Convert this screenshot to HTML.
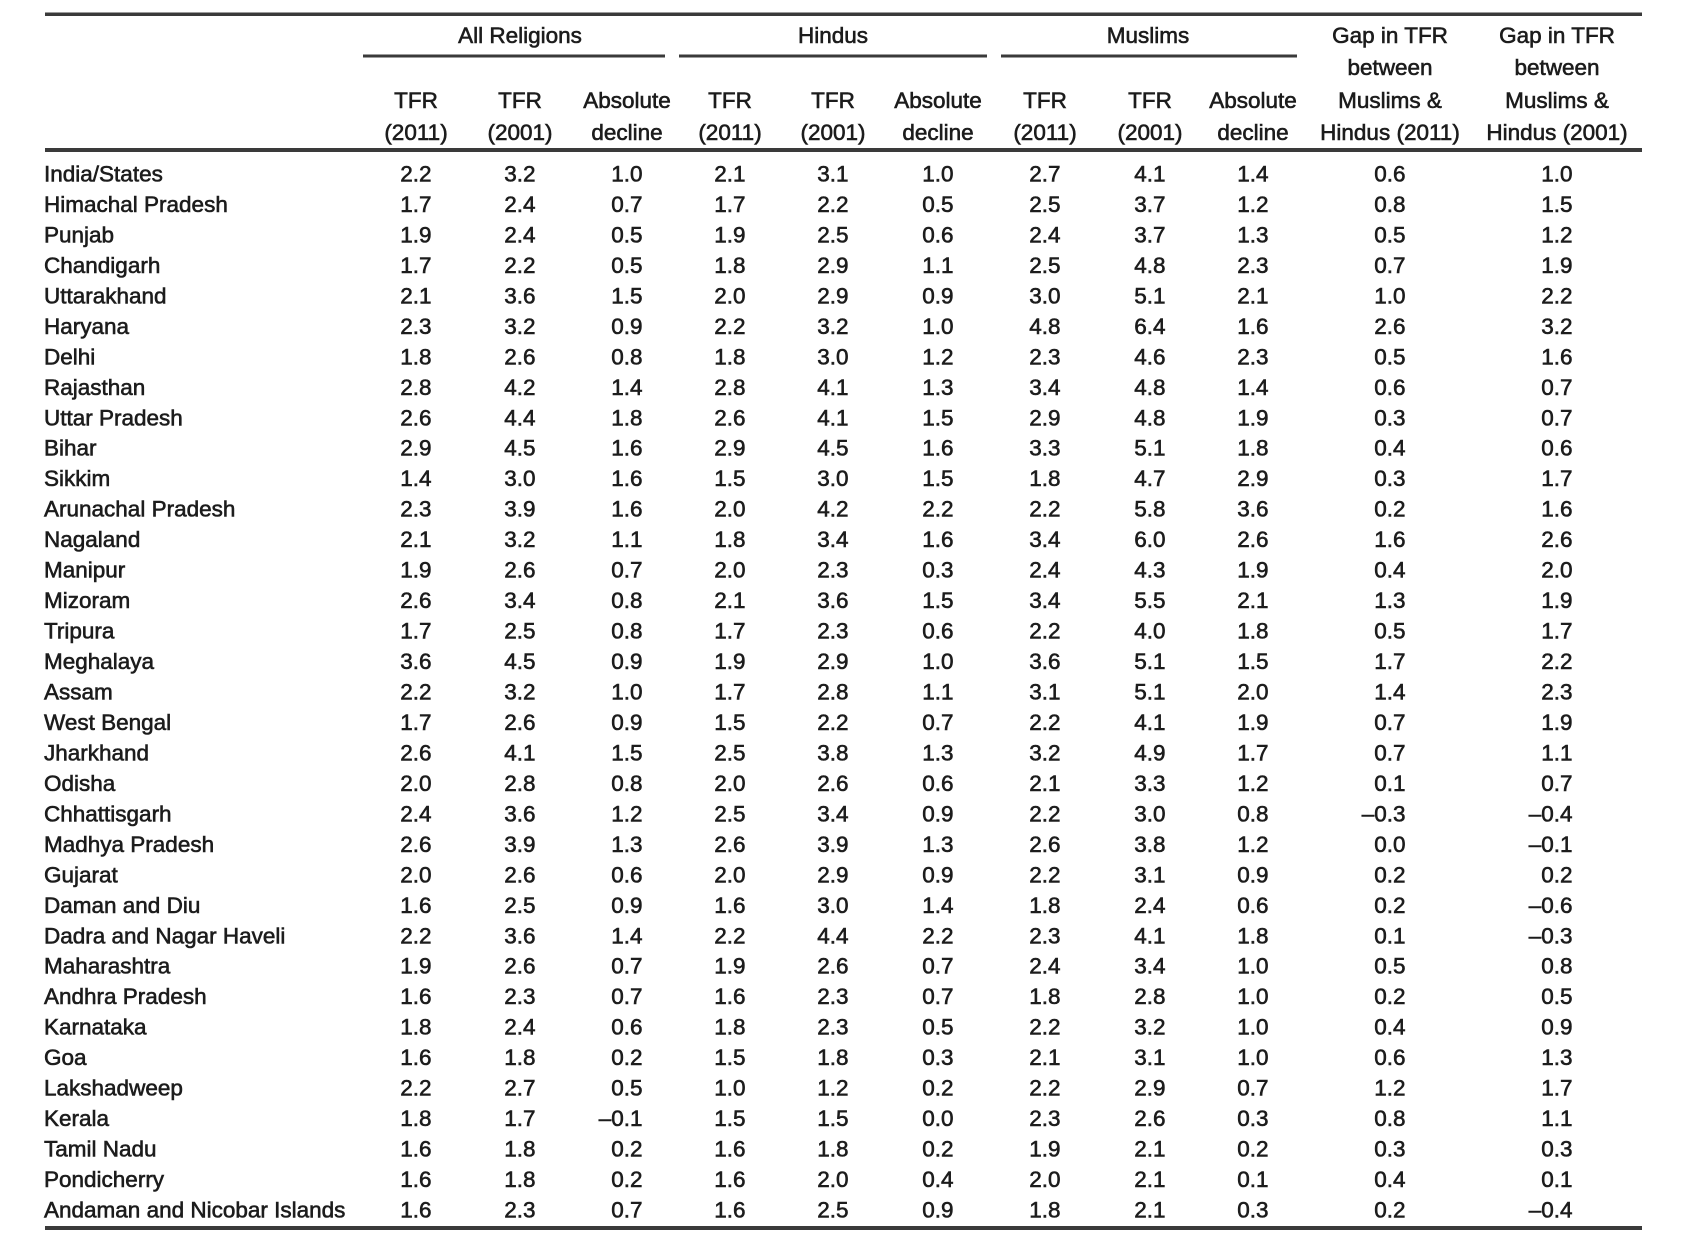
<!DOCTYPE html>
<html>
<head>
<meta charset="utf-8">
<style>
html,body{margin:0;padding:0;background:#fff;}
svg{display:block;filter:blur(0.35px);}
text{font-family:"Liberation Sans",Arial,sans-serif;font-size:22.5px;fill:#1c1c1c;stroke:#1c1c1c;stroke-width:0.6px;}
.n{text-anchor:end;}
.c{text-anchor:middle;}
</style>
</head>
<body>
<svg width="1702" height="1240" viewBox="0 0 1702 1240" xmlns="http://www.w3.org/2000/svg">
<rect x="0" y="0" width="1702" height="1240" fill="#fff"/>
<!-- rules -->
<rect x="45" y="12.5" width="1597" height="3.5" fill="#3a3a3a"/>
<rect x="363" y="54.5" width="302" height="3" fill="#3a3a3a"/>
<rect x="679" y="54.5" width="308" height="3" fill="#3a3a3a"/>
<rect x="1001" y="54.5" width="296" height="3" fill="#3a3a3a"/>
<rect x="45" y="148" width="1597" height="4" fill="#3a3a3a"/>
<rect x="45" y="1226" width="1597" height="4" fill="#3a3a3a"/>

<!-- group headers -->
<text class="c" x="520" y="43">All Religions</text>
<text class="c" x="833" y="43">Hindus</text>
<text class="c" x="1148" y="43">Muslims</text>

<!-- column headers -->
<text class="c" x="416" y="108">TFR</text><text class="c" x="416" y="140">(2011)</text>
<text class="c" x="520" y="108">TFR</text><text class="c" x="520" y="140">(2001)</text>
<text class="c" x="627" y="108">Absolute</text><text class="c" x="627" y="140">decline</text>
<text class="c" x="730" y="108">TFR</text><text class="c" x="730" y="140">(2011)</text>
<text class="c" x="833" y="108">TFR</text><text class="c" x="833" y="140">(2001)</text>
<text class="c" x="938" y="108">Absolute</text><text class="c" x="938" y="140">decline</text>
<text class="c" x="1045" y="108">TFR</text><text class="c" x="1045" y="140">(2011)</text>
<text class="c" x="1150" y="108">TFR</text><text class="c" x="1150" y="140">(2001)</text>
<text class="c" x="1253" y="108">Absolute</text><text class="c" x="1253" y="140">decline</text>
<text class="c" x="1390" y="43">Gap in TFR</text><text class="c" x="1390" y="75">between</text><text class="c" x="1390" y="108">Muslims &amp;</text><text class="c" x="1390" y="140">Hindus (2011)</text>
<text class="c" x="1557" y="43">Gap in TFR</text><text class="c" x="1557" y="75">between</text><text class="c" x="1557" y="108">Muslims &amp;</text><text class="c" x="1557" y="140">Hindus (2001)</text>

<!-- data rows -->
<g transform="translate(0,181.5)"><text x="44">India/States</text><text class="n" x="431.5">2.2</text><text class="n" x="535.5">3.2</text><text class="n" x="642.5">1.0</text><text class="n" x="745.5">2.1</text><text class="n" x="848.5">3.1</text><text class="n" x="953.5">1.0</text><text class="n" x="1060.5">2.7</text><text class="n" x="1165.5">4.1</text><text class="n" x="1268.5">1.4</text><text class="n" x="1405.5">0.6</text><text class="n" x="1572.5">1.0</text></g>
<g transform="translate(0,212.0)"><text x="44">Himachal Pradesh</text><text class="n" x="431.5">1.7</text><text class="n" x="535.5">2.4</text><text class="n" x="642.5">0.7</text><text class="n" x="745.5">1.7</text><text class="n" x="848.5">2.2</text><text class="n" x="953.5">0.5</text><text class="n" x="1060.5">2.5</text><text class="n" x="1165.5">3.7</text><text class="n" x="1268.5">1.2</text><text class="n" x="1405.5">0.8</text><text class="n" x="1572.5">1.5</text></g>
<g transform="translate(0,242.4)"><text x="44">Punjab</text><text class="n" x="431.5">1.9</text><text class="n" x="535.5">2.4</text><text class="n" x="642.5">0.5</text><text class="n" x="745.5">1.9</text><text class="n" x="848.5">2.5</text><text class="n" x="953.5">0.6</text><text class="n" x="1060.5">2.4</text><text class="n" x="1165.5">3.7</text><text class="n" x="1268.5">1.3</text><text class="n" x="1405.5">0.5</text><text class="n" x="1572.5">1.2</text></g>
<g transform="translate(0,272.9)"><text x="44">Chandigarh</text><text class="n" x="431.5">1.7</text><text class="n" x="535.5">2.2</text><text class="n" x="642.5">0.5</text><text class="n" x="745.5">1.8</text><text class="n" x="848.5">2.9</text><text class="n" x="953.5">1.1</text><text class="n" x="1060.5">2.5</text><text class="n" x="1165.5">4.8</text><text class="n" x="1268.5">2.3</text><text class="n" x="1405.5">0.7</text><text class="n" x="1572.5">1.9</text></g>
<g transform="translate(0,303.4)"><text x="44">Uttarakhand</text><text class="n" x="431.5">2.1</text><text class="n" x="535.5">3.6</text><text class="n" x="642.5">1.5</text><text class="n" x="745.5">2.0</text><text class="n" x="848.5">2.9</text><text class="n" x="953.5">0.9</text><text class="n" x="1060.5">3.0</text><text class="n" x="1165.5">5.1</text><text class="n" x="1268.5">2.1</text><text class="n" x="1405.5">1.0</text><text class="n" x="1572.5">2.2</text></g>
<g transform="translate(0,333.9)"><text x="44">Haryana</text><text class="n" x="431.5">2.3</text><text class="n" x="535.5">3.2</text><text class="n" x="642.5">0.9</text><text class="n" x="745.5">2.2</text><text class="n" x="848.5">3.2</text><text class="n" x="953.5">1.0</text><text class="n" x="1060.5">4.8</text><text class="n" x="1165.5">6.4</text><text class="n" x="1268.5">1.6</text><text class="n" x="1405.5">2.6</text><text class="n" x="1572.5">3.2</text></g>
<g transform="translate(0,364.3)"><text x="44">Delhi</text><text class="n" x="431.5">1.8</text><text class="n" x="535.5">2.6</text><text class="n" x="642.5">0.8</text><text class="n" x="745.5">1.8</text><text class="n" x="848.5">3.0</text><text class="n" x="953.5">1.2</text><text class="n" x="1060.5">2.3</text><text class="n" x="1165.5">4.6</text><text class="n" x="1268.5">2.3</text><text class="n" x="1405.5">0.5</text><text class="n" x="1572.5">1.6</text></g>
<g transform="translate(0,394.8)"><text x="44">Rajasthan</text><text class="n" x="431.5">2.8</text><text class="n" x="535.5">4.2</text><text class="n" x="642.5">1.4</text><text class="n" x="745.5">2.8</text><text class="n" x="848.5">4.1</text><text class="n" x="953.5">1.3</text><text class="n" x="1060.5">3.4</text><text class="n" x="1165.5">4.8</text><text class="n" x="1268.5">1.4</text><text class="n" x="1405.5">0.6</text><text class="n" x="1572.5">0.7</text></g>
<g transform="translate(0,425.3)"><text x="44">Uttar Pradesh</text><text class="n" x="431.5">2.6</text><text class="n" x="535.5">4.4</text><text class="n" x="642.5">1.8</text><text class="n" x="745.5">2.6</text><text class="n" x="848.5">4.1</text><text class="n" x="953.5">1.5</text><text class="n" x="1060.5">2.9</text><text class="n" x="1165.5">4.8</text><text class="n" x="1268.5">1.9</text><text class="n" x="1405.5">0.3</text><text class="n" x="1572.5">0.7</text></g>
<g transform="translate(0,455.7)"><text x="44">Bihar</text><text class="n" x="431.5">2.9</text><text class="n" x="535.5">4.5</text><text class="n" x="642.5">1.6</text><text class="n" x="745.5">2.9</text><text class="n" x="848.5">4.5</text><text class="n" x="953.5">1.6</text><text class="n" x="1060.5">3.3</text><text class="n" x="1165.5">5.1</text><text class="n" x="1268.5">1.8</text><text class="n" x="1405.5">0.4</text><text class="n" x="1572.5">0.6</text></g>
<g transform="translate(0,486.2)"><text x="44">Sikkim</text><text class="n" x="431.5">1.4</text><text class="n" x="535.5">3.0</text><text class="n" x="642.5">1.6</text><text class="n" x="745.5">1.5</text><text class="n" x="848.5">3.0</text><text class="n" x="953.5">1.5</text><text class="n" x="1060.5">1.8</text><text class="n" x="1165.5">4.7</text><text class="n" x="1268.5">2.9</text><text class="n" x="1405.5">0.3</text><text class="n" x="1572.5">1.7</text></g>
<g transform="translate(0,516.7)"><text x="44">Arunachal Pradesh</text><text class="n" x="431.5">2.3</text><text class="n" x="535.5">3.9</text><text class="n" x="642.5">1.6</text><text class="n" x="745.5">2.0</text><text class="n" x="848.5">4.2</text><text class="n" x="953.5">2.2</text><text class="n" x="1060.5">2.2</text><text class="n" x="1165.5">5.8</text><text class="n" x="1268.5">3.6</text><text class="n" x="1405.5">0.2</text><text class="n" x="1572.5">1.6</text></g>
<g transform="translate(0,547.1)"><text x="44">Nagaland</text><text class="n" x="431.5">2.1</text><text class="n" x="535.5">3.2</text><text class="n" x="642.5">1.1</text><text class="n" x="745.5">1.8</text><text class="n" x="848.5">3.4</text><text class="n" x="953.5">1.6</text><text class="n" x="1060.5">3.4</text><text class="n" x="1165.5">6.0</text><text class="n" x="1268.5">2.6</text><text class="n" x="1405.5">1.6</text><text class="n" x="1572.5">2.6</text></g>
<g transform="translate(0,577.6)"><text x="44">Manipur</text><text class="n" x="431.5">1.9</text><text class="n" x="535.5">2.6</text><text class="n" x="642.5">0.7</text><text class="n" x="745.5">2.0</text><text class="n" x="848.5">2.3</text><text class="n" x="953.5">0.3</text><text class="n" x="1060.5">2.4</text><text class="n" x="1165.5">4.3</text><text class="n" x="1268.5">1.9</text><text class="n" x="1405.5">0.4</text><text class="n" x="1572.5">2.0</text></g>
<g transform="translate(0,608.1)"><text x="44">Mizoram</text><text class="n" x="431.5">2.6</text><text class="n" x="535.5">3.4</text><text class="n" x="642.5">0.8</text><text class="n" x="745.5">2.1</text><text class="n" x="848.5">3.6</text><text class="n" x="953.5">1.5</text><text class="n" x="1060.5">3.4</text><text class="n" x="1165.5">5.5</text><text class="n" x="1268.5">2.1</text><text class="n" x="1405.5">1.3</text><text class="n" x="1572.5">1.9</text></g>
<g transform="translate(0,638.6)"><text x="44">Tripura</text><text class="n" x="431.5">1.7</text><text class="n" x="535.5">2.5</text><text class="n" x="642.5">0.8</text><text class="n" x="745.5">1.7</text><text class="n" x="848.5">2.3</text><text class="n" x="953.5">0.6</text><text class="n" x="1060.5">2.2</text><text class="n" x="1165.5">4.0</text><text class="n" x="1268.5">1.8</text><text class="n" x="1405.5">0.5</text><text class="n" x="1572.5">1.7</text></g>
<g transform="translate(0,669.0)"><text x="44">Meghalaya</text><text class="n" x="431.5">3.6</text><text class="n" x="535.5">4.5</text><text class="n" x="642.5">0.9</text><text class="n" x="745.5">1.9</text><text class="n" x="848.5">2.9</text><text class="n" x="953.5">1.0</text><text class="n" x="1060.5">3.6</text><text class="n" x="1165.5">5.1</text><text class="n" x="1268.5">1.5</text><text class="n" x="1405.5">1.7</text><text class="n" x="1572.5">2.2</text></g>
<g transform="translate(0,699.5)"><text x="44">Assam</text><text class="n" x="431.5">2.2</text><text class="n" x="535.5">3.2</text><text class="n" x="642.5">1.0</text><text class="n" x="745.5">1.7</text><text class="n" x="848.5">2.8</text><text class="n" x="953.5">1.1</text><text class="n" x="1060.5">3.1</text><text class="n" x="1165.5">5.1</text><text class="n" x="1268.5">2.0</text><text class="n" x="1405.5">1.4</text><text class="n" x="1572.5">2.3</text></g>
<g transform="translate(0,730.0)"><text x="44">West Bengal</text><text class="n" x="431.5">1.7</text><text class="n" x="535.5">2.6</text><text class="n" x="642.5">0.9</text><text class="n" x="745.5">1.5</text><text class="n" x="848.5">2.2</text><text class="n" x="953.5">0.7</text><text class="n" x="1060.5">2.2</text><text class="n" x="1165.5">4.1</text><text class="n" x="1268.5">1.9</text><text class="n" x="1405.5">0.7</text><text class="n" x="1572.5">1.9</text></g>
<g transform="translate(0,760.4)"><text x="44">Jharkhand</text><text class="n" x="431.5">2.6</text><text class="n" x="535.5">4.1</text><text class="n" x="642.5">1.5</text><text class="n" x="745.5">2.5</text><text class="n" x="848.5">3.8</text><text class="n" x="953.5">1.3</text><text class="n" x="1060.5">3.2</text><text class="n" x="1165.5">4.9</text><text class="n" x="1268.5">1.7</text><text class="n" x="1405.5">0.7</text><text class="n" x="1572.5">1.1</text></g>
<g transform="translate(0,790.9)"><text x="44">Odisha</text><text class="n" x="431.5">2.0</text><text class="n" x="535.5">2.8</text><text class="n" x="642.5">0.8</text><text class="n" x="745.5">2.0</text><text class="n" x="848.5">2.6</text><text class="n" x="953.5">0.6</text><text class="n" x="1060.5">2.1</text><text class="n" x="1165.5">3.3</text><text class="n" x="1268.5">1.2</text><text class="n" x="1405.5">0.1</text><text class="n" x="1572.5">0.7</text></g>
<g transform="translate(0,821.4)"><text x="44">Chhattisgarh</text><text class="n" x="431.5">2.4</text><text class="n" x="535.5">3.6</text><text class="n" x="642.5">1.2</text><text class="n" x="745.5">2.5</text><text class="n" x="848.5">3.4</text><text class="n" x="953.5">0.9</text><text class="n" x="1060.5">2.2</text><text class="n" x="1165.5">3.0</text><text class="n" x="1268.5">0.8</text><text class="n" x="1405.5">–0.3</text><text class="n" x="1572.5">–0.4</text></g>
<g transform="translate(0,851.8)"><text x="44">Madhya Pradesh</text><text class="n" x="431.5">2.6</text><text class="n" x="535.5">3.9</text><text class="n" x="642.5">1.3</text><text class="n" x="745.5">2.6</text><text class="n" x="848.5">3.9</text><text class="n" x="953.5">1.3</text><text class="n" x="1060.5">2.6</text><text class="n" x="1165.5">3.8</text><text class="n" x="1268.5">1.2</text><text class="n" x="1405.5">0.0</text><text class="n" x="1572.5">–0.1</text></g>
<g transform="translate(0,882.3)"><text x="44">Gujarat</text><text class="n" x="431.5">2.0</text><text class="n" x="535.5">2.6</text><text class="n" x="642.5">0.6</text><text class="n" x="745.5">2.0</text><text class="n" x="848.5">2.9</text><text class="n" x="953.5">0.9</text><text class="n" x="1060.5">2.2</text><text class="n" x="1165.5">3.1</text><text class="n" x="1268.5">0.9</text><text class="n" x="1405.5">0.2</text><text class="n" x="1572.5">0.2</text></g>
<g transform="translate(0,912.8)"><text x="44">Daman and Diu</text><text class="n" x="431.5">1.6</text><text class="n" x="535.5">2.5</text><text class="n" x="642.5">0.9</text><text class="n" x="745.5">1.6</text><text class="n" x="848.5">3.0</text><text class="n" x="953.5">1.4</text><text class="n" x="1060.5">1.8</text><text class="n" x="1165.5">2.4</text><text class="n" x="1268.5">0.6</text><text class="n" x="1405.5">0.2</text><text class="n" x="1572.5">–0.6</text></g>
<g transform="translate(0,943.3)"><text x="44">Dadra and Nagar Haveli</text><text class="n" x="431.5">2.2</text><text class="n" x="535.5">3.6</text><text class="n" x="642.5">1.4</text><text class="n" x="745.5">2.2</text><text class="n" x="848.5">4.4</text><text class="n" x="953.5">2.2</text><text class="n" x="1060.5">2.3</text><text class="n" x="1165.5">4.1</text><text class="n" x="1268.5">1.8</text><text class="n" x="1405.5">0.1</text><text class="n" x="1572.5">–0.3</text></g>
<g transform="translate(0,973.7)"><text x="44">Maharashtra</text><text class="n" x="431.5">1.9</text><text class="n" x="535.5">2.6</text><text class="n" x="642.5">0.7</text><text class="n" x="745.5">1.9</text><text class="n" x="848.5">2.6</text><text class="n" x="953.5">0.7</text><text class="n" x="1060.5">2.4</text><text class="n" x="1165.5">3.4</text><text class="n" x="1268.5">1.0</text><text class="n" x="1405.5">0.5</text><text class="n" x="1572.5">0.8</text></g>
<g transform="translate(0,1004.2)"><text x="44">Andhra Pradesh</text><text class="n" x="431.5">1.6</text><text class="n" x="535.5">2.3</text><text class="n" x="642.5">0.7</text><text class="n" x="745.5">1.6</text><text class="n" x="848.5">2.3</text><text class="n" x="953.5">0.7</text><text class="n" x="1060.5">1.8</text><text class="n" x="1165.5">2.8</text><text class="n" x="1268.5">1.0</text><text class="n" x="1405.5">0.2</text><text class="n" x="1572.5">0.5</text></g>
<g transform="translate(0,1034.7)"><text x="44">Karnataka</text><text class="n" x="431.5">1.8</text><text class="n" x="535.5">2.4</text><text class="n" x="642.5">0.6</text><text class="n" x="745.5">1.8</text><text class="n" x="848.5">2.3</text><text class="n" x="953.5">0.5</text><text class="n" x="1060.5">2.2</text><text class="n" x="1165.5">3.2</text><text class="n" x="1268.5">1.0</text><text class="n" x="1405.5">0.4</text><text class="n" x="1572.5">0.9</text></g>
<g transform="translate(0,1065.1)"><text x="44">Goa</text><text class="n" x="431.5">1.6</text><text class="n" x="535.5">1.8</text><text class="n" x="642.5">0.2</text><text class="n" x="745.5">1.5</text><text class="n" x="848.5">1.8</text><text class="n" x="953.5">0.3</text><text class="n" x="1060.5">2.1</text><text class="n" x="1165.5">3.1</text><text class="n" x="1268.5">1.0</text><text class="n" x="1405.5">0.6</text><text class="n" x="1572.5">1.3</text></g>
<g transform="translate(0,1095.6)"><text x="44">Lakshadweep</text><text class="n" x="431.5">2.2</text><text class="n" x="535.5">2.7</text><text class="n" x="642.5">0.5</text><text class="n" x="745.5">1.0</text><text class="n" x="848.5">1.2</text><text class="n" x="953.5">0.2</text><text class="n" x="1060.5">2.2</text><text class="n" x="1165.5">2.9</text><text class="n" x="1268.5">0.7</text><text class="n" x="1405.5">1.2</text><text class="n" x="1572.5">1.7</text></g>
<g transform="translate(0,1126.1)"><text x="44">Kerala</text><text class="n" x="431.5">1.8</text><text class="n" x="535.5">1.7</text><text class="n" x="642.5">–0.1</text><text class="n" x="745.5">1.5</text><text class="n" x="848.5">1.5</text><text class="n" x="953.5">0.0</text><text class="n" x="1060.5">2.3</text><text class="n" x="1165.5">2.6</text><text class="n" x="1268.5">0.3</text><text class="n" x="1405.5">0.8</text><text class="n" x="1572.5">1.1</text></g>
<g transform="translate(0,1156.5)"><text x="44">Tamil Nadu</text><text class="n" x="431.5">1.6</text><text class="n" x="535.5">1.8</text><text class="n" x="642.5">0.2</text><text class="n" x="745.5">1.6</text><text class="n" x="848.5">1.8</text><text class="n" x="953.5">0.2</text><text class="n" x="1060.5">1.9</text><text class="n" x="1165.5">2.1</text><text class="n" x="1268.5">0.2</text><text class="n" x="1405.5">0.3</text><text class="n" x="1572.5">0.3</text></g>
<g transform="translate(0,1187.0)"><text x="44">Pondicherry</text><text class="n" x="431.5">1.6</text><text class="n" x="535.5">1.8</text><text class="n" x="642.5">0.2</text><text class="n" x="745.5">1.6</text><text class="n" x="848.5">2.0</text><text class="n" x="953.5">0.4</text><text class="n" x="1060.5">2.0</text><text class="n" x="1165.5">2.1</text><text class="n" x="1268.5">0.1</text><text class="n" x="1405.5">0.4</text><text class="n" x="1572.5">0.1</text></g>
<g transform="translate(0,1217.5)"><text x="44">Andaman and Nicobar Islands</text><text class="n" x="431.5">1.6</text><text class="n" x="535.5">2.3</text><text class="n" x="642.5">0.7</text><text class="n" x="745.5">1.6</text><text class="n" x="848.5">2.5</text><text class="n" x="953.5">0.9</text><text class="n" x="1060.5">1.8</text><text class="n" x="1165.5">2.1</text><text class="n" x="1268.5">0.3</text><text class="n" x="1405.5">0.2</text><text class="n" x="1572.5">–0.4</text></g>
</svg>
</body>
</html>
